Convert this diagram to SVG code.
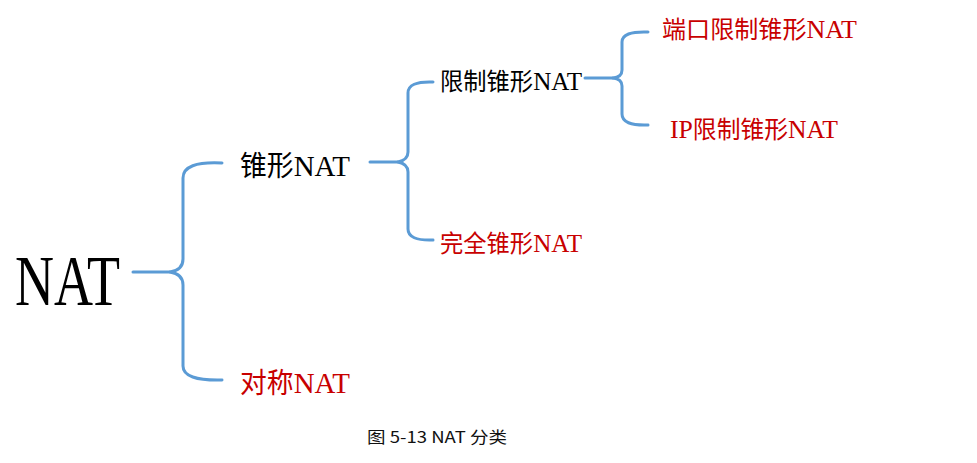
<svg xmlns="http://www.w3.org/2000/svg" width="977" height="463" viewBox="0 0 977 463">
<style>
.br{fill:none;stroke:#5B9BD5;stroke-width:3;stroke-linecap:round;stroke-linejoin:round}
.t{font-family:"Liberation Serif","Noto Sans CJK SC",serif;fill:#000}
.r{fill:#C80000}
.l{font-size:1.08em}
.cap{font-family:"Noto Sans CJK SC",sans-serif;font-size:16px;fill:#111}
</style>
<rect width="977" height="463" fill="#fff"/>
<g id="connectors">
<path class="br" d="M133,272 L170,272"/>
<path class="br" d="M222,163 Q183,161 183,178 L183,259 Q183,270 170,272 Q183,274 183,285 L183,366 Q183,381 222,380"/>
<path class="br" d="M370,162 L398,162"/>
<path class="br" d="M433,82 Q408,81 408,93 L408,152 Q408,160 398,162 Q408,164 408,172 L408,229 Q408,241 433,240"/>
<path class="br" d="M585,78 L613,78"/>
<path class="br" d="M648,32 Q622,31 622,42 L622,70 Q622,77 613,78 Q622,79 622,86 L622,114 Q622,126 648,125"/>
</g>
<g id="n-nat"><text class="t" x="15" y="305" font-size="72" textLength="105" lengthAdjust="spacingAndGlyphs">NAT</text></g>
<g id="n-cone"><text class="t" x="240" y="176" font-size="28" textLength="110" lengthAdjust="spacingAndGlyphs">锥形<tspan class="l">NAT</tspan></text></g>
<g id="n-sym"><text class="t r" x="240" y="393" font-size="28" textLength="110" lengthAdjust="spacingAndGlyphs">对称<tspan class="l">NAT</tspan></text></g>
<g id="n-restricted"><text class="t" x="440" y="90" font-size="24" textLength="142" lengthAdjust="spacingAndGlyphs">限制锥形<tspan class="l">NAT</tspan></text></g>
<g id="n-full"><text class="t r" x="440" y="252" font-size="24" textLength="142" lengthAdjust="spacingAndGlyphs">完全锥形<tspan class="l">NAT</tspan></text></g>
<g id="n-port"><text class="t r" x="662" y="38" font-size="24" textLength="195" lengthAdjust="spacingAndGlyphs">端口限制锥形<tspan class="l">NAT</tspan></text></g>
<g id="n-ip"><text class="t r" x="670" y="138" font-size="24" textLength="168" lengthAdjust="spacingAndGlyphs"><tspan class="l">IP</tspan>限制锥形<tspan class="l">NAT</tspan></text></g>
<g id="caption"><text class="cap" x="367" y="443" textLength="140" lengthAdjust="spacingAndGlyphs">图 5-13 NAT 分类</text></g>
</svg>
